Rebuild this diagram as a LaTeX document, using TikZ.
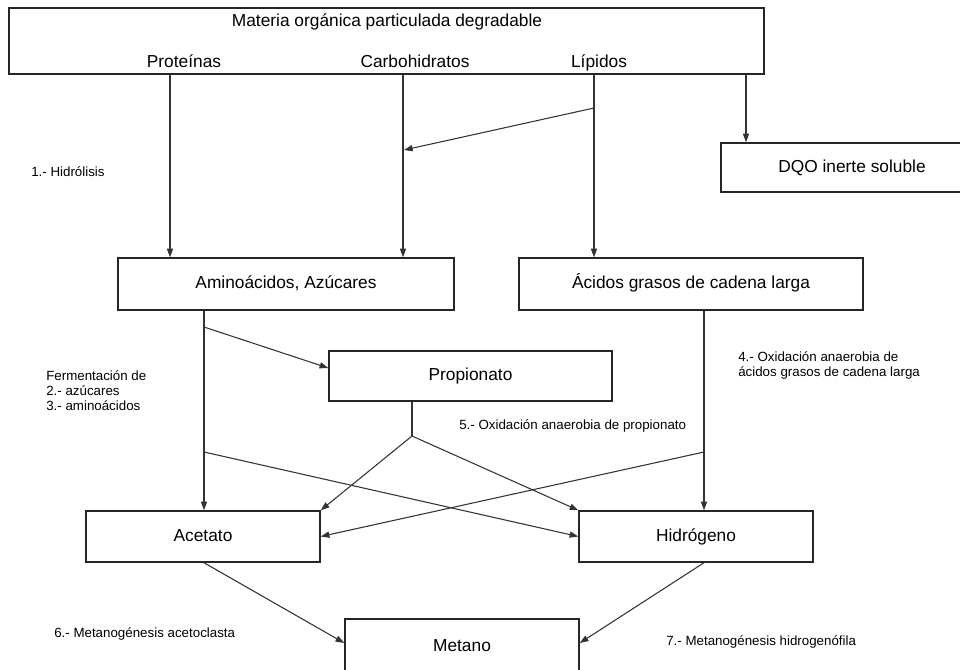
\documentclass[tikz,border=0pt]{standalone}
\usepackage{fontspec}
\setmainfont{Liberation Sans}
\usetikzlibrary{arrows.meta,fit}
\begin{document}
\begin{tikzpicture}[x=0.75pt,y=-0.75pt,
  box/.style={draw=black!85, line width=1.1pt, inner sep=0pt},
  conn/.style={draw=black!80, line width=0.8pt, -{Triangle[length=6.5pt,width=4.6pt]}},
  plain/.style={draw=black!80, line width=0.8pt},
  big/.style={font=\fontsize{13}{15}\selectfont, inner sep=0pt, text height=9.6pt, text depth=2.8pt},
  small/.style={font=\fontsize{10}{11.4}\selectfont, inner sep=0pt, anchor=west, align=left}]
\useasboundingbox (0,0) rectangle (960,669);

% boxes
\node[box, fit={(9,8)(764,74)}] (top) {};
\node[big] (tTitle) at (387,22) {Materia orgánica particulada degradable};
\node[big] (tProt) at (184,63) {Proteínas};
\node[big] (tCarb) at (415,63) {Carbohidratos};
\node[big] (tLip) at (599,63) {Lípidos};

\node[box, fit={(721,143)(983,192)}, label={[big]center:DQO inerte soluble}] (dqo) {};
\node[box, fit={(118,258)(454,310)}, label={[big]center:Aminoácidos, Azúcares}] (amino) {};
\node[box, fit={(519,258)(863,310)}, label={[big]center:Ácidos grasos de cadena larga}] (acidos) {};
\node[box, fit={(329,351)(612,401)}, label={[big]center:Propionato}] (prop) {};
\node[box, fit={(86,511)(320,562)}, label={[big]center:Acetato}] (acet) {};
\node[box, fit={(579,511)(813,562)}, label={[big]center:Hidrógeno}] (hidro) {};
\node[box, fit={(345,619)(579,675)}, label={[big]center:Metano}] (metano) {};

% helper coordinates
\coordinate (xP) at (170,0);
\coordinate (xC) at (403,0);
\coordinate (xL) at (594,0);
\coordinate (xD) at (746,0);
\coordinate (xA) at (204,0);
\coordinate (xF) at (704,0);
\coordinate (xPr) at (412,0);
\coordinate (lipS) at (594,108);
\coordinate (carbE) at (404,150);
\coordinate (amS) at (204,327);
\coordinate (amX) at (204,452);
\coordinate (acX) at (704,452);
\coordinate (apex) at (412,436);

% hydrolysis
\draw[conn] (top.south -| xP) -- (amino.north -| xP);
\draw[conn] (top.south -| xC) -- (amino.north -| xC);
\draw[conn] (top.south -| xL) -- (acidos.north -| xL);
\draw[conn] (top.south -| xD) -- (dqo.north -| xD);
\draw[conn] (lipS) -- (carbE);

% fermentation
\draw[conn] (amino.south -| xA) -- (acet.north -| xA);
\draw[conn] (amS) -- (prop.west |- 0,368);
\draw[conn] (amX) -- (hidro.west);

% LCFA oxidation
\draw[conn] (acidos.south -| xF) -- (hidro.north -| xF);
\draw[conn] (acX) -- (acet.east);

% propionate oxidation
\draw[plain] (prop.south -| xPr) -- (apex);
\draw[conn] (apex) -- (acet.north east);
\draw[conn] (apex) -- (hidro.north west);

% methanogenesis
\draw[conn] (acet.south -| xA) -- (metano.west |- 0,643);
\draw[conn] (hidro.south -| xF) -- (metano.east |- 0,643);

% labels
\node[small] (l1) at (31,172) {1.- Hidrólisis};
\node[small] (l23) at (46,390.5) {Fermentación de\\2.- azúcares\\3.- aminoácidos};
\node[small] (l4) at (738,365.5) {4.- Oxidación anaerobia de\\ácidos grasos de cadena larga};
\node[small] (l5) at (459,426) {5.- Oxidación anaerobia de propionato};
\node[small] (l6) at (54,634) {6.- Metanogénesis acetoclasta};
\node[small] (l7) at (666,642) {7.- Metanogénesis hidrogenófila};
\end{tikzpicture}
\end{document}
